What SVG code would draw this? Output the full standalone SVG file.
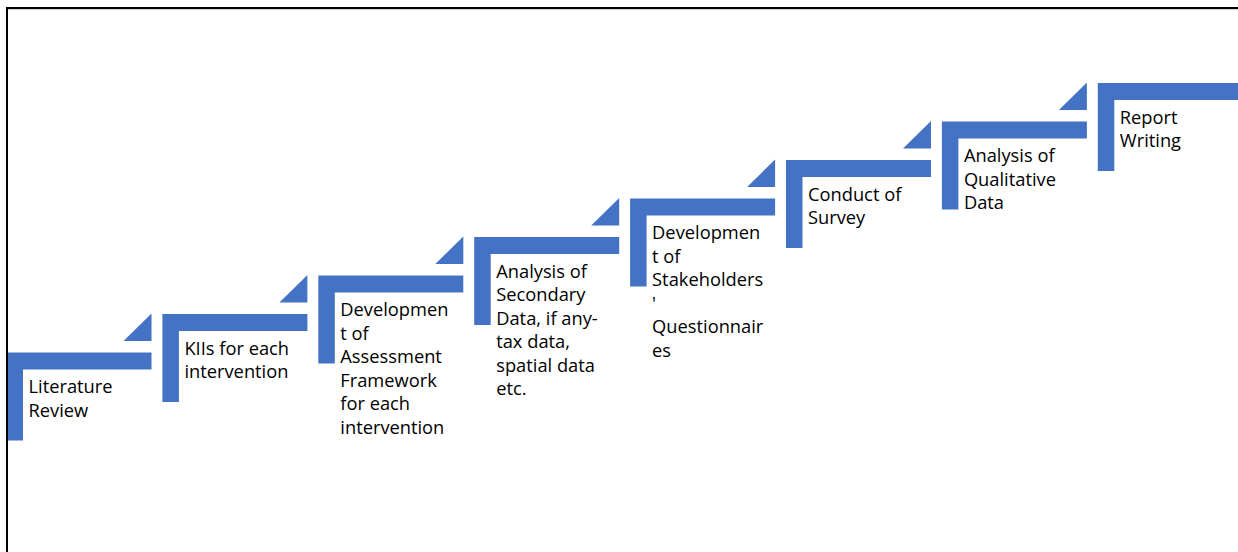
<svg xmlns="http://www.w3.org/2000/svg" width="1238" height="552" viewBox="0 0 1238 552">
  <defs>
    <style>
      .bar { fill: #4472C4; }
      .label { font-family: "Open Sans", "Liberation Sans", sans-serif; font-size: 18.3px; fill: #000000; }
    </style>
    <!-- stair step: L-shaped bracket -->
    <path id="bracket" class="bar" d="M0,0 H145 V17 H16.5 V88 H0 Z"/>
    <!-- small corner triangle leading up to the next step -->
    <path id="riser" class="bar" d="M145,-11.5 H117 L145,-39 Z"/>
  </defs>
  <rect width="1238" height="552" fill="#ffffff"/>

  <g id="steps">
    <g id="step-literature-review" transform="translate(6.5,352.5)">
      <use href="#bracket"/><use href="#riser"/>
      <text class="label" x="22" y="40.5">Literature<tspan x="22" dy="23.5">Review</tspan></text>
    </g>
    <g id="step-kiis" transform="translate(162.4,314)">
      <use href="#bracket"/><use href="#riser"/>
      <text class="label" x="22" y="40.5">KIIs for each<tspan x="22" dy="23.5">intervention</tspan></text>
    </g>
    <g id="step-assessment-framework" transform="translate(318.3,275.5)">
      <use href="#bracket"/><use href="#riser"/>
      <text class="label" x="22" y="40.5">Developmen<tspan x="22" dy="23.5">t of</tspan><tspan x="22" dy="23.5">Assessment</tspan><tspan x="22" dy="23.5">Framework</tspan><tspan x="22" dy="23.5">for each</tspan><tspan x="22" dy="23.5">intervention</tspan></text>
    </g>
    <g id="step-secondary-data" transform="translate(474.2,237)">
      <use href="#bracket"/><use href="#riser"/>
      <text class="label" x="22" y="40.5">Analysis of<tspan x="22" dy="23.5">Secondary</tspan><tspan x="22" dy="23.5">Data, if any-</tspan><tspan x="22" dy="23.5">tax data,</tspan><tspan x="22" dy="23.5">spatial data</tspan><tspan x="22" dy="23.5">etc.</tspan></text>
    </g>
    <g id="step-questionnaires" transform="translate(630.1,198.5)">
      <use href="#bracket"/><use href="#riser"/>
      <text class="label" x="22" y="40.5">Developmen<tspan x="22" dy="23.5">t of</tspan><tspan x="22" dy="23.5">Stakeholders</tspan><tspan x="22" dy="23.5">'</tspan><tspan x="22" dy="23.5">Questionnair</tspan><tspan x="22" dy="23.5">es</tspan></text>
    </g>
    <g id="step-survey" transform="translate(786,160)">
      <use href="#bracket"/><use href="#riser"/>
      <text class="label" x="22" y="40.5">Conduct of<tspan x="22" dy="23.5">Survey</tspan></text>
    </g>
    <g id="step-qualitative" transform="translate(941.9,121.5)">
      <use href="#bracket"/><use href="#riser"/>
      <text class="label" x="22" y="40.5">Analysis of<tspan x="22" dy="23.5">Qualitative</tspan><tspan x="22" dy="23.5">Data</tspan></text>
    </g>
    <g id="step-report" transform="translate(1097.8,83)">
      <use href="#bracket"/>
      <text class="label" x="22" y="40.5">Report<tspan x="22" dy="23.5">Writing</tspan></text>
    </g>
  </g>

  <!-- frame: top and left edges only -->
  <g id="frame">
    <path d="M7,552 V8 H1238" fill="none" stroke="#000000" stroke-width="2"/>
    <line x1="8" y1="9.6" x2="1238" y2="9.6" stroke="#cfcfcf" stroke-width="1"/>
  </g>
</svg>
